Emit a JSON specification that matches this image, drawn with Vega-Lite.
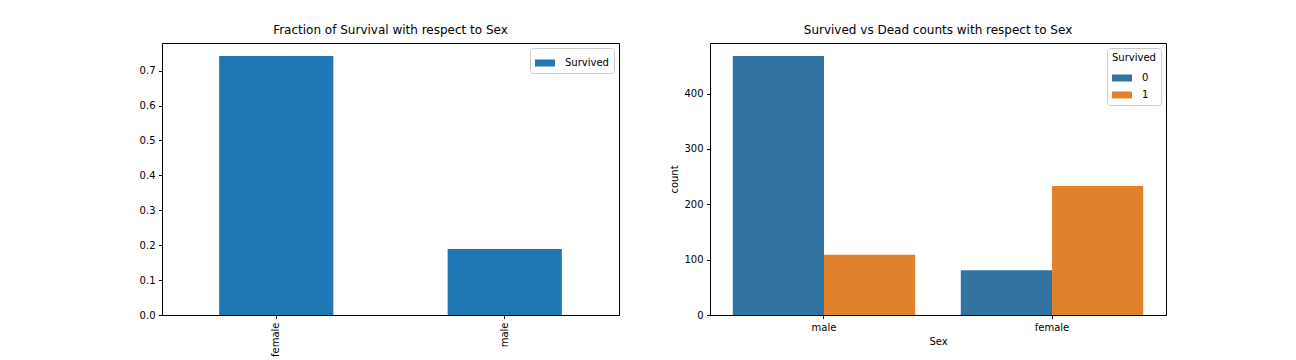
{
  "$schema": "https://vega.github.io/schema/vega-lite/v6.json",
  "padding": {"left": 138, "top": 23, "right": 5, "bottom": 0},
  "spacing": 49,
  "config": {
    "font": "DejaVu Sans",
    "view": {"stroke": "#000000", "strokeWidth": 1},
    "axis": {
      "grid": false,
      "domainColor": "#000000",
      "tickColor": "#000000",
      "labelColor": "#000000",
      "titleColor": "#000000",
      "labelFontSize": 10,
      "titleFontSize": 10,
      "titleFontWeight": "normal",
      "tickSize": 3.5,
      "labelPadding": 3.5
    },
    "legend": {
      "labelFontSize": 10,
      "titleFontSize": 10,
      "titleFontWeight": "normal",
      "labelColor": "#000000",
      "titleColor": "#000000",
      "strokeColor": "#cccccc",
      "fillColor": "rgba(255,255,255,0.8)",
      "cornerRadius": 3,
      "padding": 5,
      "offset": 5,
      "labelOffset": 10,
      "symbolType": "M-1,-0.35L1,-0.35L1,0.35L-1,0.35Z",
      "symbolSize": 400,
      "symbolStrokeWidth": 0
    },
    "title": {"fontSize": 12, "fontWeight": "normal", "color": "#000000", "offset": 6}
  },
  "hconcat": [
    {
      "title": "Fraction of Survival with respect to Sex",
      "width": 457,
      "height": 272,
      "data": {"values": [
        {"Sex": "female", "Survived": 0.742038, "series": "Survived"},
        {"Sex": "male", "Survived": 0.188908, "series": "Survived"}
      ]},
      "mark": {"type": "bar"},
      "encoding": {
        "x": {"field": "Sex", "type": "nominal", "sort": ["female", "male"],
              "scale": {"paddingInner": 0.5, "paddingOuter": 0.25},
              "axis": {"title": null, "labelAngle": -90}},
        "y": {"field": "Survived", "type": "quantitative",
              "scale": {"domain": [0, 0.779], "nice": false},
              "axis": {"title": null, "values": [0, 0.1, 0.2, 0.3, 0.4, 0.5, 0.6, 0.7], "format": ".1f"}},
        "color": {"field": "series", "type": "nominal",
                  "scale": {"range": ["#1f77b4"]},
                  "legend": {"title": null, "orient": "top-right"}}
      }
    },
    {
      "title": "Survived vs Dead counts with respect to Sex",
      "width": 456,
      "height": 272,
      "data": {"values": [
        {"Sex": "male", "Survived": "0", "count": 468},
        {"Sex": "male", "Survived": "1", "count": 109},
        {"Sex": "female", "Survived": "0", "count": 81},
        {"Sex": "female", "Survived": "1", "count": 233}
      ]},
      "mark": {"type": "bar"},
      "encoding": {
        "x": {"field": "Sex", "type": "nominal", "sort": ["male", "female"],
              "scale": {"paddingInner": 0.2, "paddingOuter": 0.1},
              "axis": {"title": "Sex", "labelAngle": 0}},
        "xOffset": {"field": "Survived", "type": "nominal", "scale": {"paddingInner": 0, "paddingOuter": 0}},
        "y": {"field": "count", "type": "quantitative",
              "scale": {"domain": [0, 491.4], "nice": false},
              "axis": {"title": "count", "values": [0, 100, 200, 300, 400]}},
        "color": {"field": "Survived", "type": "nominal",
                  "scale": {"range": ["#3274a1", "#e1812c"]},
                  "legend": {"title": "Survived", "orient": "top-right"}}
      },
      "resolve": {"scale": {"color": "independent"}}
    }
  ],
  "resolve": {"scale": {"color": "independent"}}
}
